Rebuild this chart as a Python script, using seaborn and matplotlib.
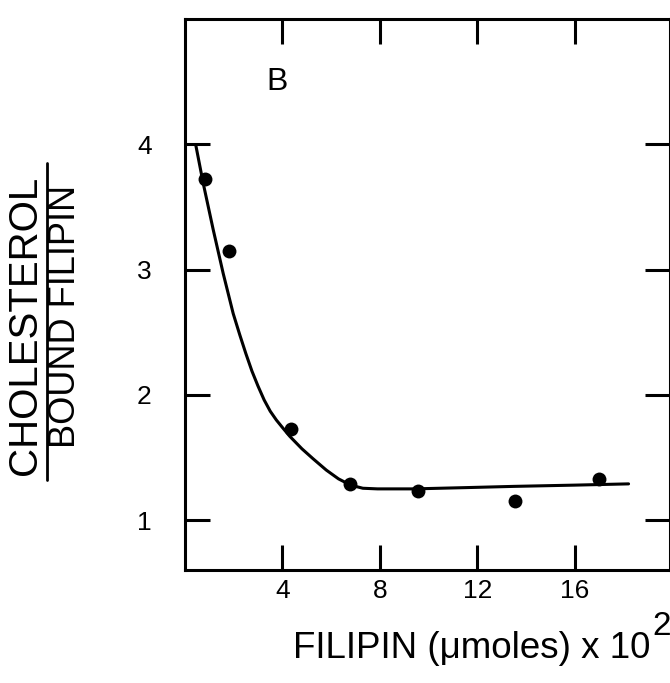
import matplotlib
matplotlib.use("Agg")
import matplotlib.pyplot as plt
import seaborn as sns

# measured points
filipin = [0.82, 1.82, 4.37, 6.76, 9.56, 13.56, 17.0]
ratio = [3.72, 3.15, 1.73, 1.29, 1.23, 1.15, 1.33]

# fitted curve
curve_x = [0.45, 0.75, 1.16, 1.57, 1.98, 2.25, 2.5, 2.75, 3.0, 3.25, 3.5, 3.75, 4.0, 4.3, 4.8,
           5.26, 5.8, 6.3, 6.8, 7.3, 7.9, 9.4, 11.5, 13.5, 16.0, 18.2]
curve_y = [3.99, 3.69, 3.32, 2.97, 2.65, 2.48, 2.33, 2.19, 2.07, 1.96, 1.87, 1.80, 1.74, 1.67, 1.57,
           1.49, 1.40, 1.33, 1.28, 1.255, 1.25, 1.25, 1.26, 1.27, 1.28, 1.29]

x_ticks = [4, 8, 12, 16]
y_ticks = [1, 2, 3, 4]

sns.set_theme(style="ticks")
plt.rcParams['font.family'] = ['Liberation Sans', 'DejaVu Sans']

fig = plt.figure(figsize=(6.7, 6.83), dpi=100)
ax = fig.add_axes([0.276, 0.165, 0.724, 0.807])

sns.lineplot(x=curve_x, y=curve_y, ax=ax, color="black", linewidth=2.2, sort=False)
sns.scatterplot(x=filipin, y=ratio, ax=ax, color="black", s=100, edgecolor="black", linewidth=0, zorder=5)

ax.set_xlim(0, 19.9)
ax.set_ylim(0.6, 5.0)
ax.set_xticks(x_ticks)
ax.set_xticklabels([str(t) for t in x_ticks])
ax.set_yticks(y_ticks)
ax.set_yticklabels([str(t) for t in y_ticks])

for s in ax.spines.values():
    s.set_visible(True)
    s.set_linewidth(2.2)
    s.set_color("black")

ax.tick_params(axis="both", direction="in", length=18, width=2.2, colors="black",
               labelsize=19, top=True, right=True)
ax.tick_params(axis="x", pad=6)
ax.tick_params(axis="y", pad=24)

ax.text(3.8, 4.5, "B", fontsize=23, ha="center", va="center", color="black")

ax.set_xlabel("")
ax.set_ylabel("")
fig.text(0.970, 0.0366, "FILIPIN (μmoles) x 10",
         fontsize=26.5, ha="right", va="baseline", color="black")
fig.text(0.973, 0.070, "2", fontsize=24, ha="left", va="baseline", color="black")

# fraction-style y label
fig.text(0.038, 0.524, "CHOLESTEROL", rotation=90, fontsize=29, ha="center", va="center", color="black")
fig.text(0.098, 0.536, "BOUND FILIPIN", rotation=90, fontsize=26, ha="center", va="center", color="black")
fig.add_artist(plt.Line2D([0.070, 0.070], [0.297, 0.762], color="black", linewidth=2.0, transform=fig.transFigure))

fig.savefig("out.png", dpi=100)
